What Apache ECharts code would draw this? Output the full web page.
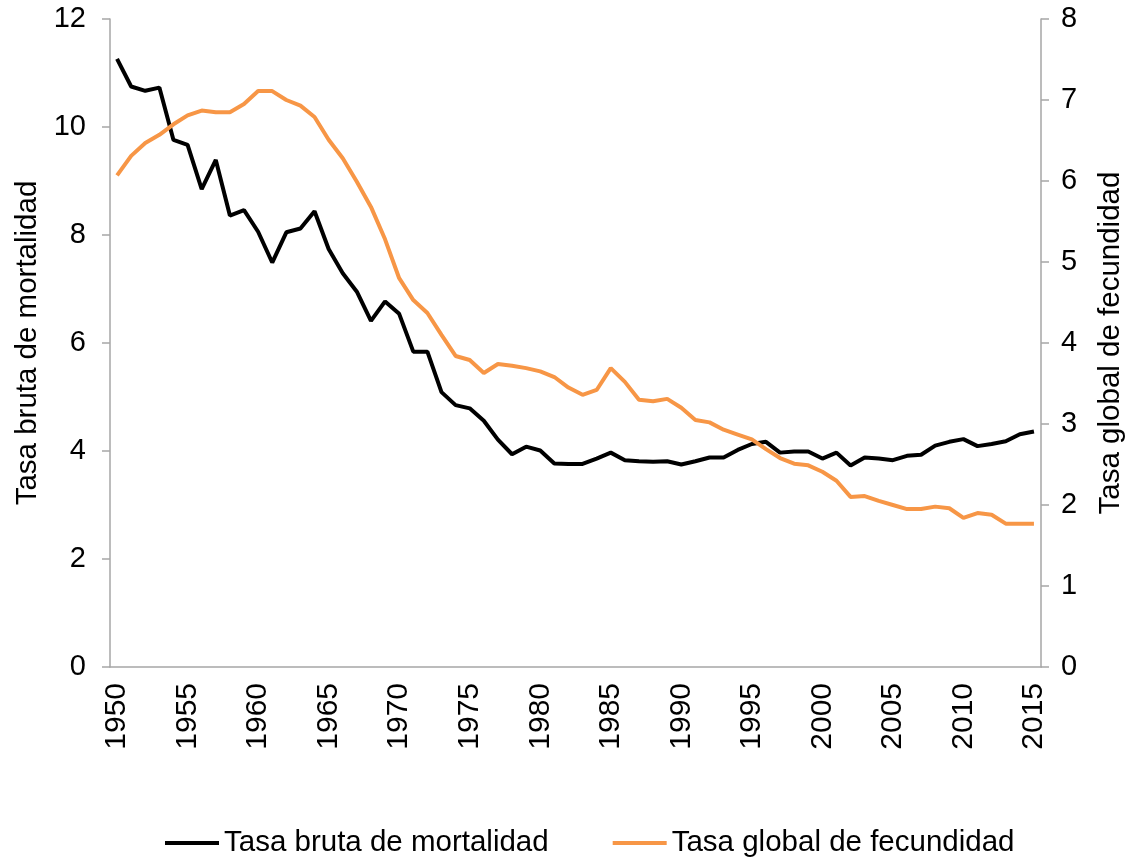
<!DOCTYPE html>
<html>
<head>
<meta charset="utf-8">
<script src="https://cdn.jsdelivr.net/npm/echarts@6/dist/echarts.min.js"></script>
<style>
  html, body { margin: 0; padding: 0; background: #fff; }
  #grafica { width: 1128px; height: 860px; }
</style>
</head>
<body>
<div id="grafica"></div>
<script>
// años 1950-2015
var anios = []
for (var a = 1950; a <= 2015; a++) { anios.push(String(a)) }

var mortalidad = [
  11.26, 10.75, 10.67, 10.73, 9.76, 9.67, 8.85, 9.39, 8.36, 8.46,
  8.06, 7.49, 8.05, 8.12, 8.44, 7.74, 7.29, 6.95, 6.41, 6.77,
  6.54, 5.84, 5.84, 5.09, 4.85, 4.79, 4.56, 4.21, 3.94, 4.08,
  4.01, 3.77, 3.76, 3.76, 3.86, 3.97, 3.83, 3.81, 3.80, 3.81,
  3.75, 3.81, 3.88, 3.88, 4.02, 4.13, 4.17, 3.97, 3.99, 3.99,
  3.86, 3.97, 3.73, 3.88, 3.86, 3.83, 3.91, 3.93, 4.10, 4.17,
  4.22, 4.09, 4.13, 4.18, 4.31, 4.36
]

var fecundidad = [
  6.07, 6.31, 6.47, 6.57, 6.70, 6.81, 6.87, 6.85, 6.85, 6.95,
  7.11, 7.11, 7.00, 6.93, 6.79, 6.51, 6.28, 5.99, 5.68, 5.28,
  4.80, 4.53, 4.37, 4.10, 3.84, 3.79, 3.63, 3.74, 3.72, 3.69,
  3.65, 3.58, 3.45, 3.36, 3.42, 3.69, 3.52, 3.30, 3.28, 3.31,
  3.20, 3.05, 3.02, 2.93, 2.87, 2.81, 2.69, 2.58, 2.51, 2.49,
  2.41, 2.30, 2.10, 2.11, 2.05, 2.00, 1.95, 1.95, 1.98, 1.96,
  1.84, 1.90, 1.88, 1.77, 1.77, 1.77
]

var fuente = 'Liberation Sans, Arial, sans-serif'
var gris = '#a6a6a6'

var myChart = echarts.init(document.getElementById('grafica'))

var option = {
  animation: false,
  textStyle: { fontFamily: fuente, color: '#000' },
  grid: { left: 110, right: 87, top: 19, bottom: 193, outerBoundsMode: 'none', containLabel: false },
  legend: {
    bottom: -3,
    left: 160,
    itemGap: 64,
    itemWidth: 54,
    itemHeight: 4,
    textStyle: { fontSize: 29.5, fontFamily: fuente, color: '#000' },
    data: [
      { name: 'Tasa bruta de mortalidad', icon: 'rect' },
      { name: 'Tasa global de fecundidad', icon: 'rect' }
    ]
  },
  xAxis: [{
    type: 'category',
    data: anios,
    boundaryGap: true,
    axisLine: { lineStyle: { color: gris, width: 1.5 } },
    axisTick: { interval: 4, length: 8, lineStyle: { color: gris, width: 1.5 } },
    axisLabel: { interval: 4, rotate: 90, margin: 16, fontSize: 30, color: '#000', fontFamily: fuente },
    splitLine: { show: false }
  }],
  yAxis: [{
    type: 'value',
    min: 0, max: 12, interval: 2,
    name: 'Tasa bruta de mortalidad',
    nameLocation: 'middle',
    nameGap: 58,
    nameRotate: 90,
    nameTextStyle: { fontSize: 29.5, color: '#000', fontFamily: fuente },
    axisLine: { show: true, lineStyle: { color: gris, width: 1.5 } },
    axisTick: { show: true, length: 8, lineStyle: { color: gris, width: 1.5 } },
    axisLabel: { margin: 24, fontSize: 29, color: '#000', fontFamily: fuente },
    splitLine: { show: false }
  }, {
    type: 'value',
    min: 0, max: 8, interval: 1,
    position: 'right',
    name: 'Tasa global de fecundidad',
    nameLocation: 'middle',
    nameGap: 55,
    nameRotate: 90,
    nameTextStyle: { fontSize: 29.5, color: '#000', fontFamily: fuente },
    axisLine: { show: true, lineStyle: { color: gris, width: 1.5 } },
    axisTick: { show: true, length: 8, lineStyle: { color: gris, width: 1.5 } },
    axisLabel: { margin: 20, fontSize: 29, color: '#000', fontFamily: fuente },
    splitLine: { show: false }
  }],
  series: [{
    name: 'Tasa bruta de mortalidad',
    type: 'line',
    yAxisIndex: 0,
    data: mortalidad,
    showSymbol: false,
    symbol: 'none',
    itemStyle: { color: '#000' },
    lineStyle: { color: '#000', width: 4 }
  }, {
    name: 'Tasa global de fecundidad',
    type: 'line',
    yAxisIndex: 1,
    data: fecundidad,
    showSymbol: false,
    symbol: 'none',
    itemStyle: { color: '#f79646' },
    lineStyle: { color: '#f79646', width: 4 }
  }]
}

myChart.setOption(option)
</script>
</body>
</html>
